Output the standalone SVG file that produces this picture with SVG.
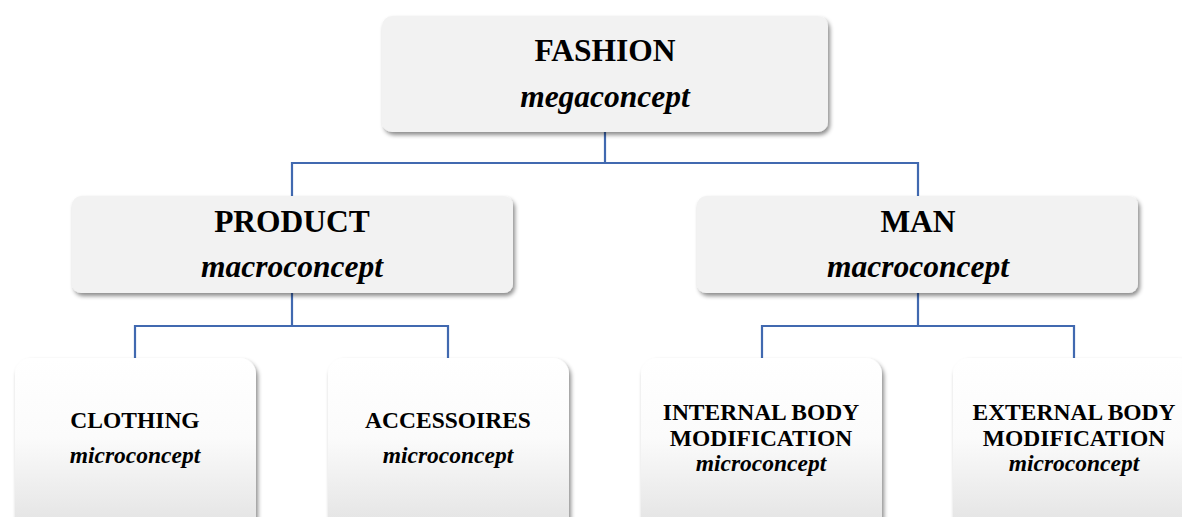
<svg xmlns="http://www.w3.org/2000/svg" width="1182" height="517" viewBox="0 0 1182 517">
<style>
.t{font-family:"Liberation Serif","Times New Roman",serif;font-weight:bold;fill:#000;text-anchor:middle}
.big{font-size:31.5px}
.sm{font-size:23.5px}
.it{font-style:italic}
.conn{stroke:#4169b0;stroke-width:2.2;fill:none}
.top{fill:#f2f2f2}
.bot{fill:url(#g)}
</style>
<defs>
<filter id="sh" x="-10%" y="-10%" width="125%" height="130%">
<feDropShadow dx="2" dy="3" stdDeviation="2.2" flood-color="#000" flood-opacity="0.45"/>
</filter>
<linearGradient id="g" x1="0" y1="0" x2="0" y2="1">
<stop offset="0" stop-color="#ffffff"/>
<stop offset="0.45" stop-color="#fbfbfb"/>
<stop offset="1" stop-color="#e2e2e2"/>
</linearGradient>
</defs>
<g id="connectors">
<path class="conn" d="M605 132V163M292 196V163H918V196"/>
<path class="conn" d="M292 293V326M135 358V326H448V358"/>
<path class="conn" d="M918 293V326M762 358V326H1074V358"/>
</g>
<g id="fashion">
<rect class="top" x="382" y="16" width="446" height="116" rx="10" filter="url(#sh)"/>
<text class="t big" x="605" y="61">FASHION</text>
<text class="t big it" x="605" y="107">megaconcept</text>
</g>
<g id="product">
<rect class="top" x="72" y="196" width="441" height="97" rx="9" filter="url(#sh)"/>
<text class="t big" x="292" y="232">PRODUCT</text>
<text class="t big it" x="292" y="277">macroconcept</text>
</g>
<g id="man">
<rect class="top" x="697" y="196" width="441" height="97" rx="9" filter="url(#sh)"/>
<text class="t big" x="918" y="232">MAN</text>
<text class="t big it" x="918" y="277">macroconcept</text>
</g>
<g id="clothing">
<rect class="bot" x="15" y="358" width="241" height="175" rx="16" filter="url(#sh)"/>
<text class="t sm" x="135" y="428">CLOTHING</text>
<text class="t sm it" x="135" y="463">microconcept</text>
</g>
<g id="accessoires">
<rect class="bot" x="328" y="358" width="241" height="175" rx="16" filter="url(#sh)"/>
<text class="t sm" x="448" y="428">ACCESSOIRES</text>
<text class="t sm it" x="448" y="463">microconcept</text>
</g>
<g id="internal">
<rect class="bot" x="641" y="358" width="241" height="175" rx="16" filter="url(#sh)"/>
<text class="t sm" x="761" y="420">INTERNAL BODY</text>
<text class="t sm" x="761" y="446">MODIFICATION</text>
<text class="t sm it" x="761" y="471">microconcept</text>
</g>
<g id="external">
<rect class="bot" x="953" y="358" width="241" height="175" rx="16" filter="url(#sh)"/>
<text class="t sm" x="1074" y="420">EXTERNAL BODY</text>
<text class="t sm" x="1074" y="446">MODIFICATION</text>
<text class="t sm it" x="1074" y="471">microconcept</text>
</g>
</svg>
